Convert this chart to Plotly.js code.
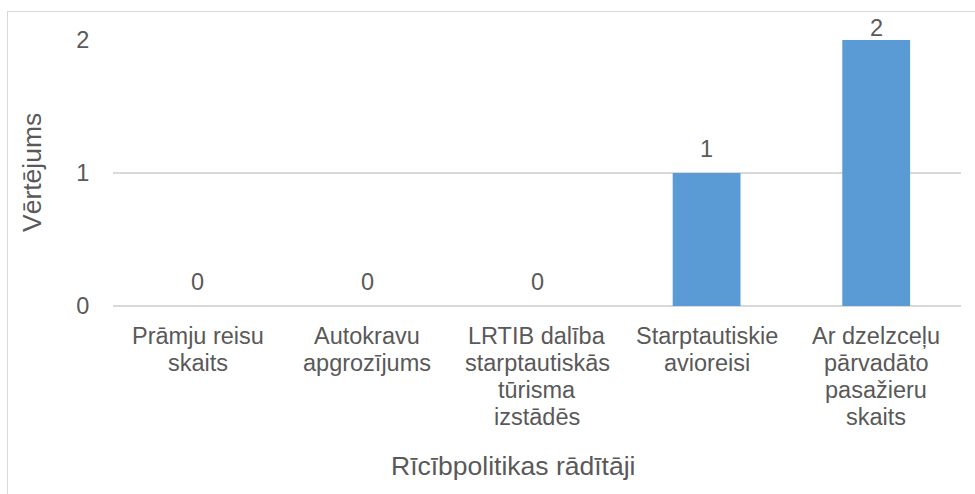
<!DOCTYPE html>
<html>
<head>
<meta charset="utf-8">
<script src="https://cdn.plot.ly/plotly-3.0.1.min.js"></script>
<style>
  html, body { margin: 0; padding: 0; background: #fff; overflow: hidden; }
  #wrap { position: relative; width: 975px; height: 494px; }
  #chart { width: 975px; height: 494px; }
  #frame { position: absolute; left: 7px; top: 11px; width: 1000px; height: 1000px;
           border: 1.5px solid #d9d9d9; pointer-events: none; box-sizing: border-box; }
</style>
</head>
<body>
<div id="wrap">
  <div id="chart"></div>
  <div id="frame"></div>
</div>
<script>
const categories = [
  "Prāmju reisu skaits",
  "Autokravu apgrozījums",
  "LRTIB dalība starptautiskās tūrisma izstādēs",
  "Starptautiskie avioreisi",
  "Ar dzelzceļu pārvadāto pasažieru skaits"
];
const tickLabelLines = [
  ["Prāmju reisu", "skaits"],
  ["Autokravu", "apgrozījums"],
  ["LRTIB dalība", "starptautiskās", "tūrisma", "izstādēs"],
  ["Starptautiskie", "avioreisi"],
  ["Ar dzelzceļu", "pārvadāto", "pasažieru", "skaits"]
];
const values = [0, 0, 0, 1, 2];
const yTicks = [0, 1, 2];
const xTitle = "Rīcībpolitikas rādītāji";
const yTitle = "Vērtējums";

const font = "Liberation Sans, Arial, sans-serif";
const grey = "#595959";
const yMax = Math.max(...yTicks);

const trace = {
  type: "bar",
  x: categories,
  y: values,
  marker: { color: "#5B9BD5" },
  hoverinfo: "none"
};

const annotations = [];
// category labels, one line each, placed on the category axis
tickLabelLines.forEach((lines, i) => {
  lines.forEach((line, j) => {
    annotations.push({
      text: line, x: categories[i], y: 0, xref: "x", yref: "y",
      xanchor: "center", yanchor: "middle", yshift: -(30 + 27 * j),
      showarrow: false, font: { family: font, size: 23.5, color: grey }
    });
  });
});
// data labels
values.forEach((v, i) => {
  annotations.push({
    text: String(v), x: categories[i], y: v, xref: "x", yref: "y",
    xanchor: "center", yanchor: "middle", yshift: v === yMax ? 12 : 24,
    showarrow: false, font: { family: font, size: 23.5, color: grey }
  });
});
annotations.push(
  { text: xTitle, xref: "paper", yref: "paper", x: (513 - 113) / 848, y: -(466 - 306) / 266,
    xanchor: "center", yanchor: "middle", showarrow: false,
    font: { family: font, size: 26.5, color: grey } },
  { text: yTitle, xref: "paper", yref: "paper", x: (32 - 113) / 848, y: 0.5,
    xanchor: "center", yanchor: "middle", showarrow: false, textangle: -90,
    font: { family: font, size: 26.5, color: grey } }
);

const layout = {
  width: 975, height: 494,
  margin: { l: 113, r: 14, t: 40, b: 188 },
  paper_bgcolor: "#ffffff",
  plot_bgcolor: "#ffffff",
  bargap: 0.6,
  showlegend: false,
  font: { family: font, color: grey },
  xaxis: {
    type: "category",
    showticklabels: false,
    showgrid: false, zeroline: false, showline: false,
    automargin: false
  },
  yaxis: {
    range: [0, 2],
    tickvals: yTicks,
    ticktext: yTicks.map(String),
    tickfont: { family: font, size: 23.5, color: grey },
    ticks: "outside", ticklen: 18, tickcolor: "rgba(0,0,0,0)",
    showgrid: true, gridcolor: "#d9d9d9", gridwidth: 1.5,
    zeroline: true, zerolinecolor: "#d9d9d9", zerolinewidth: 1.5,
    showline: false, automargin: false
  },
  annotations: annotations
};

Plotly.newPlot("chart", [trace], layout, { staticPlot: true, displayModeBar: false });
</script>
</body>
</html>
